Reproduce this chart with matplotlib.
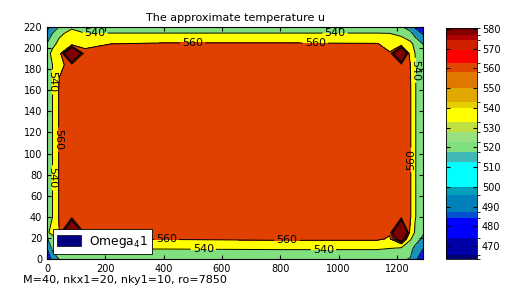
import numpy as np
import matplotlib
matplotlib.use('Agg')
import matplotlib.pyplot as plt
from matplotlib.colors import ListedColormap, BoundaryNorm
from matplotlib.patches import Patch
import matplotlib.cm as cm

# mesh nodes and temperature at each node
x_nodes = [0, 20, 42, 85, 130, 400, 800, 1130, 1175, 1215, 1246, 1262, 1290]
y_nodes = [0, 10, 19, 25, 40, 100, 160, 184, 195, 204, 214, 220]
temp = [
    [482, 508, 521, 523, 523, 523, 524, 524, 523, 522, 519, 505, 485],
    [500, 525, 536, 541, 541, 541, 542, 542, 540, 536, 526, 515, 500],
    [518, 532, 548, 585, 561, 561, 563, 563, 558, 585, 542, 530, 515],
    [537, 546, 560, 610, 564, 564, 564, 564, 562, 610, 555, 538, 522],
    [522, 541, 562, 564, 564, 564, 564, 564, 564, 564, 562, 541, 530],
    [522, 541, 562, 564, 564, 564, 564, 564, 564, 564, 562, 541, 530],
    [522, 541, 562, 564, 564, 564, 564, 564, 564, 564, 562, 541, 530],
    [524, 541, 558, 563, 564, 564, 564, 564, 564, 563, 560, 541, 530],
    [532, 546, 554, 605, 561, 564, 564, 563, 561, 605, 552, 540, 526],
    [521, 535, 545, 555, 559, 562, 562, 561, 555, 552, 545, 535, 519],
    [507, 521, 536, 546, 540.5, 540.5, 540.5, 540.5, 540, 535, 525, 512, 497],
    [492, 507, 521, 537, 527, 527, 527, 527, 527, 522, 511, 497, 482],
]

levels = [440, 500, 520, 540, 560, 574, 620]
fill_colors = ['#1010E8', '#1890C0', '#80E080', '#FFFF00', '#E04000', '#800000']
line_levels = [500, 520, 566, 570, 574]
label_levels = [540, 560]
label_pos = [(165, 213), (988, 213), (536, 8), (948, 8), (19, 168), (19, 77), (1263, 179),
             (500, 205), (920, 205), (410, 17), (823, 15), (40, 113), (1248, 94)]

# colour bar bands
cb_edges = [463.4, 465.5, 474, 484, 487, 496, 500, 512.5, 517.5, 522.5, 528, 533,
            540, 543, 550, 558, 563, 569.5, 574.5, 577, 580.5]
cb_colors = ['#000070', '#0000A8', '#0000FF', '#0050D0', '#0080B8', '#00A0B8',
             '#00FFFF', '#40B8B8', '#80E080', '#98E080', '#C0E040', '#FFFF00',
             '#E8D000', '#E0A800', '#E07800', '#E04800', '#FF0000', '#D02000',
             '#B00000', '#800000']
cb_ticks = [470, 480, 490, 500, 510, 520, 530, 540, 550, 560, 570, 580]

X, Y = np.meshgrid(x_nodes, y_nodes)
T = np.array(temp)

fig = plt.figure(figsize=(5.07, 2.92), dpi=100)
ax = fig.add_axes([0.0927, 0.113, 0.742, 0.7945])

ax.contourf(X, Y, T, levels=levels, colors=fill_colors)
ax.contour(X, Y, T, levels=line_levels, colors='k', linewidths=0.6)
cs = ax.contour(X, Y, T, levels=label_levels, colors='k', linewidths=0.7)
ax.clabel(cs, fontsize=8, fmt='%d', inline=True, inline_spacing=2, manual=label_pos)

ax.set_xlim(0, 1290)
ax.set_ylim(0, 220)
ax.set_xticks(range(0, 1201, 200))
ax.set_yticks(range(0, 221, 20))
ax.tick_params(direction='in', length=3, labelsize=7, top=True, right=True)
ax.set_title('The approximate temperature u', fontsize=8, pad=4)

leg = ax.legend(handles=[Patch(facecolor='#000080', edgecolor='k', linewidth=0.5)],
                labels=['Omega$_4$1'], loc='lower left', bbox_to_anchor=(0.016, 0.022),
                borderaxespad=0, fontsize=8.8, fancybox=False, framealpha=1,
                edgecolor='k', handlelength=1.9, handleheight=0.95,
                borderpad=0.35, handletextpad=0.7)
leg.get_frame().set_linewidth(0.6)

fig.text(0.045, 0.03, 'M=40, nkx1=20, nky1=10, ro=7850', fontsize=8)

cax = fig.add_axes([0.8797, 0.113, 0.0611, 0.791])
cmap = ListedColormap(cb_colors)
norm = BoundaryNorm(cb_edges, cmap.N)
sm = cm.ScalarMappable(norm=norm, cmap=cmap)
cb = fig.colorbar(sm, cax=cax, spacing='proportional', drawedges=False)
cb.set_ticks(cb_ticks)
cb.outline.set_linewidth(0.6)
cax.tick_params(direction='in', length=3, labelsize=7, left=True, right=True)

fig.savefig('out.png', dpi=100)
